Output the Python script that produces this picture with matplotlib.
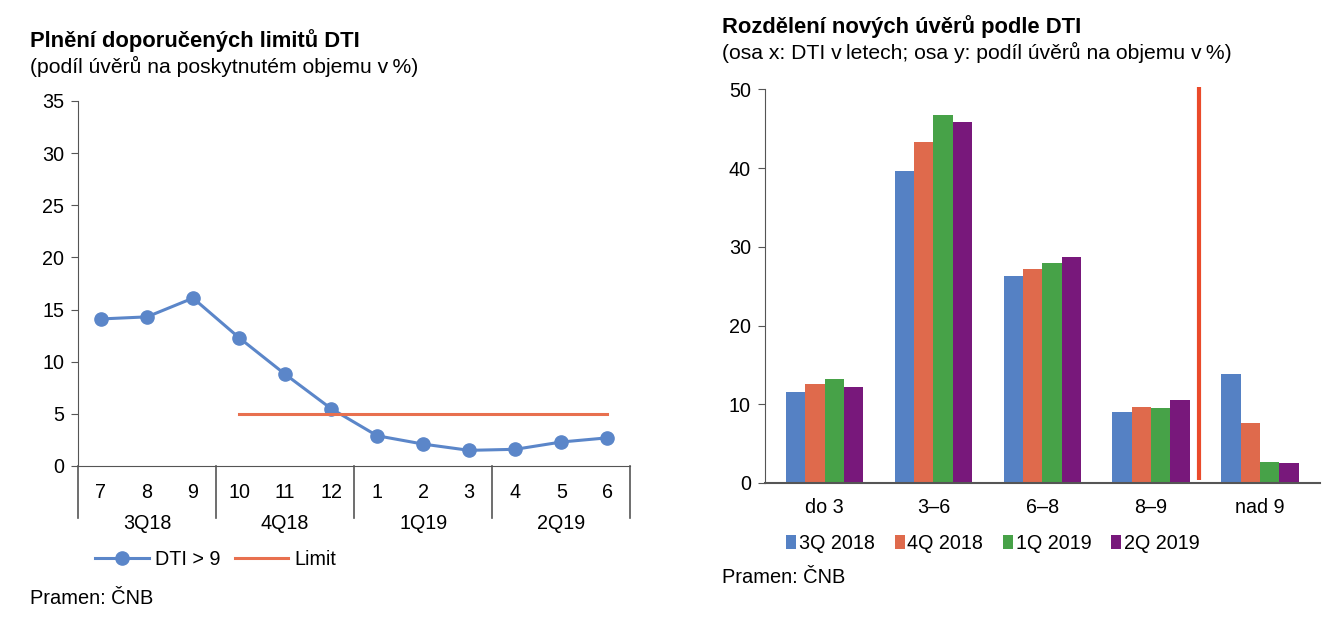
import numpy as np
import matplotlib.pyplot as plt

plt.rcParams['font.family'] = ['Liberation Sans', 'DejaVu Sans']
plt.rcParams['font.size'] = 14.2

# levy graf - plneni limitu DTI
months = ["7", "8", "9", "10", "11", "12", "1", "2", "3", "4", "5", "6"]
quarters = ["3Q18", "4Q18", "1Q19", "2Q19"]
dti_over9 = [14.1, 14.3, 16.1, 12.3, 8.8, 5.5, 2.9, 2.1, 1.5, 1.6, 2.3, 2.7]
limit = [None, None, None, 5, 5, 5, 5, 5, 5, 5, 5, 5]

# pravy graf - rozdeleni uveru podle DTI
dti_groups = ["do 3", "3\u20136", "6\u20138", "8\u20139", "nad 9"]
periods = ["3Q 2018", "4Q 2018", "1Q 2019", "2Q 2019"]
q3_2018 = [11.5, 39.6, 26.3, 9.0, 13.8]
q4_2018 = [12.6, 43.3, 27.2, 9.6, 7.6]
q1_2019 = [13.2, 46.7, 27.9, 9.5, 2.7]
q2_2019 = [12.2, 45.9, 28.7, 10.5, 2.5]

blue = "#5581C4"
orange = "#DF6A4C"
green = "#47A248"
purple = "#78187B"
line_blue = "#5B86C9"
limit_red = "#E8704F"
axis_col = "#555555"

fig = plt.figure(figsize=(13.44, 6.2), dpi=100)

# ---- levy graf
ax1 = fig.add_axes([0.058, 0.2484, 0.411, 0.5887])
x = np.arange(len(months))
ax1.plot(x, dti_over9, color=line_blue, lw=2.2, marker="o", ms=9.5, label="DTI > 9")
lim = np.array([np.nan if v is None else v for v in limit], dtype=float)
ax1.plot(x, lim, color=limit_red, lw=2.2, label="Limit")
ax1.set_xlim(-0.5, len(months) - 0.5)
ax1.set_ylim(0, 35)
ax1.set_yticks(range(0, 36, 5))
ax1.set_xticks([])
for s in ["top", "right"]:
    ax1.spines[s].set_visible(False)
for s in ["left", "bottom"]:
    ax1.spines[s].set_color(axis_col)
ax1.tick_params(axis="y", length=5, color=axis_col, pad=5)

trans = ax1.get_xaxis_transform()
for i, m in enumerate(months):
    ax1.annotate(m, (i, 0), xycoords=trans, xytext=(0, -27), textcoords="offset pixels",
                 ha="center", va="center")
for j, q in enumerate(quarters):
    ax1.annotate(q, (3 * j + 1, 0), xycoords=trans, xytext=(0, -58), textcoords="offset pixels",
                 ha="center", va="center")
for k in range(len(quarters) + 1):
    xs = 3 * k - 0.5
    ax1.plot([xs, xs], [0, -0.142], transform=trans, color=axis_col, lw=1.2, clip_on=False)

ax1.legend(loc="center left", bbox_to_anchor=(0.071, 0.097), bbox_transform=fig.transFigure,
           ncol=2, frameon=False, handlelength=2.7, columnspacing=0.75, handletextpad=0.3,
           borderpad=0, borderaxespad=0)

fig.text(0.0223, 0.935, "Plnění doporučených limitů DTI", fontweight="bold", fontsize=15.8, va="center")
fig.text(0.0223, 0.892, "(podíl úvěrů na poskytnutém objemu v\u2009%)", fontsize=15.2, va="center")
fig.text(0.0223, 0.035, "Pramen: ČNB", fontsize=14.4, va="center")

# ---- pravy graf
ax2 = fig.add_axes([0.569, 0.221, 0.413, 0.635])
g = np.arange(len(dti_groups))
w = 0.178
for i, (vals, col, lab) in enumerate(zip([q3_2018, q4_2018, q1_2019, q2_2019],
                                         [blue, orange, green, purple], periods)):
    ax2.bar(g + (i - 1.5) * w, vals, width=w, color=col, label=lab)
ax2.plot([3.44, 3.44], [0.4, 50.3], color="#EA4A2A", lw=3, clip_on=False, solid_capstyle="butt")
ax2.set_xlim(-0.55, len(dti_groups) - 0.45)
ax2.set_ylim(0, 50)
ax2.set_yticks(range(0, 51, 10))
ax2.set_xticks(g)
ax2.set_xticklabels(dti_groups)
for s in ["top", "right"]:
    ax2.spines[s].set_visible(False)
for s in ["left", "bottom"]:
    ax2.spines[s].set_color(axis_col)
ax2.spines["bottom"].set_linewidth(1.5)
ax2.tick_params(axis="y", length=5, color=axis_col, pad=5)
ax2.tick_params(axis="x", length=0, pad=11)

ax2.legend(loc="center left", bbox_to_anchor=(0.585, 0.124), bbox_transform=fig.transFigure,
           ncol=4, frameon=False, handlelength=0.5, handleheight=0.7, columnspacing=1.0,
           handletextpad=0.15, borderpad=0, borderaxespad=0)

fig.text(0.537, 0.957, "Rozdělení nových úvěrů podle DTI", fontweight="bold", fontsize=15.8, va="center")
fig.text(0.537, 0.915, "(osa x: DTI v\u2009letech; osa y: podíl úvěrů na objemu v\u2009%)", fontsize=15.2, va="center")
fig.text(0.537, 0.069, "Pramen: ČNB", fontsize=14.4, va="center")

fig.savefig("out.png", dpi=100)
